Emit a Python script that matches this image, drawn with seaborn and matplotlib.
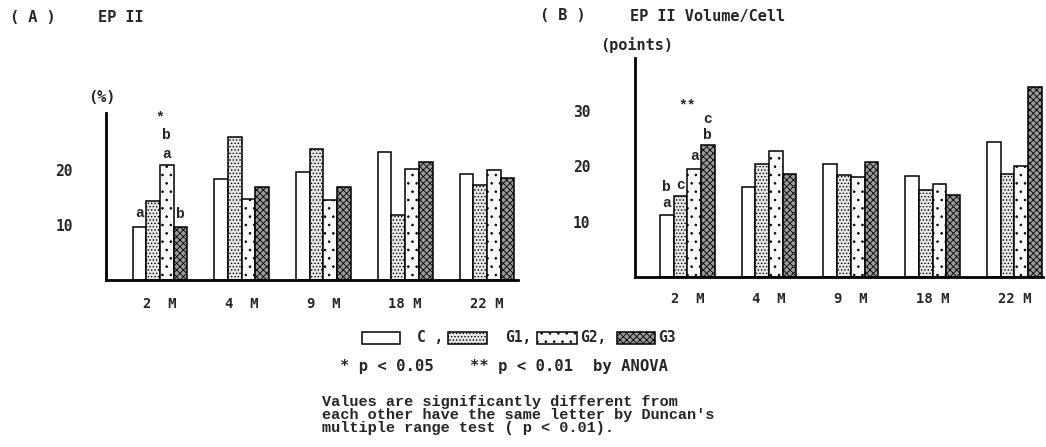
import matplotlib
matplotlib.use('Agg')
import matplotlib.pyplot as plt
import seaborn as sns
import pandas as pd
from matplotlib.patches import Rectangle

# ---------------- data ----------------
months = ['2  M', '4  M', '9  M', '18 M', '22 M']
groups = ['C', 'G1', 'G2', 'G3']

ep2_C = [9.7, 18.4, 19.7, 23.3, 19.3]
ep2_G1 = [14.4, 26.0, 23.8, 11.8, 17.2]
ep2_G2 = [20.9, 14.7, 14.5, 20.1, 20.0]
ep2_G3 = [9.7, 16.9, 17.0, 21.5, 18.5]

vol_C = [11.3, 16.2, 20.4, 18.2, 24.4]
vol_G1 = [14.6, 20.4, 18.4, 15.7, 18.6]
vol_G2 = [19.5, 22.7, 18.0, 16.8, 20.0]
vol_G3 = [23.8, 18.6, 20.8, 14.9, 34.3]

yticks_A = [10, 20]
yticks_B = [10, 20, 30]

# significance annotations: (text, month index, group, y value)
ann_A = [('a', 0, 'C', 12.2), ('*', 0, None, 29.6), ('b', 0, 'G2', 26.4),
         ('a', 0, 'G2', 22.9), ('b', 0, 'G3', 12.0)]
ann_B = [('**', 0, None, 31.0), ('c', 0, 'G3', 28.6), ('b', 0, 'G3', 25.6),
         ('a', 0, 'G2', 21.8), ('b', 0, 'C', 16.3), ('c', 0, 'G1', 16.6),
         ('a', 0, 'C', 13.3)]

legend_labels = ['C ,', 'G1,', 'G2,', 'G3']

# ---------------- style ----------------
sns.set_style('white')
plt.rcParams['font.family'] = ['DejaVu Sans Mono', 'DejaVu Sans']
plt.rcParams['hatch.linewidth'] = 0.6

fills = {'C': '#ffffff', 'G1': '#e6e6e6', 'G2': '#f9f9f9', 'G3': '#9a9a9a'}
hatches = {'C': '', 'G1': '.....', 'G2': '..', 'G3': 'xxxxx'}
WIDTH = 0.67
offs = {g: (i - 1.5) * WIDTH / 4 for i, g in enumerate(groups)}


def make_df(series):
    rows = []
    for g, vals in zip(groups, series):
        for m, v in zip(months, vals):
            rows.append({'month': m, 'group': g, 'value': v})
    return pd.DataFrame(rows)


W, H = 1046, 447
fig = plt.figure(figsize=(W / 100, H / 100), dpi=100)

axA = fig.add_axes([106 / W, 1 - 280 / H, 412 / W, (280 - 113) / H])
axB = fig.add_axes([635 / W, 1 - 277 / H, 408 / W, (277 - 58) / H])


def draw(ax, series, ylim, yticks, xlim, ypad, xpad, ann):
    df = make_df(series)
    sns.barplot(data=df, x='month', y='value', hue='group', order=months,
                hue_order=groups, palette=fills, width=WIDTH, dodge=True,
                errorbar=None, edgecolor='black', linewidth=1.1,
                legend=False, ax=ax)
    for cont, g in zip(ax.containers, groups):
        for bar in cont:
            bar.set_hatch(hatches[g])
    ax.set_xlim(*xlim)
    ax.set_ylim(0, ylim)
    ax.set_yticks(yticks)
    ax.set_xlabel('')
    ax.set_ylabel('')
    for s in ['top', 'right']:
        ax.spines[s].set_visible(False)
    for s in ['left', 'bottom']:
        ax.spines[s].set_linewidth(2.0)
        ax.spines[s].set_color('black')
    ax.tick_params(axis='y', direction='in', length=3, width=1, pad=ypad,
                   labelsize=10.5)
    ax.tick_params(axis='x', length=0, pad=xpad, labelsize=10)
    for lab in ax.get_xticklabels() + ax.get_yticklabels():
        lab.set_fontweight('bold')
    for txt, mi, g, yv in ann:
        x = mi + (offs[g] if g else 0.0)
        ax.text(x, yv, txt, ha='center', va='center', fontsize=10.5,
                family='Liberation Mono', fontweight='bold')
    ax.set_facecolor('none')


draw(axA, [ep2_C, ep2_G1, ep2_G2, ep2_G3], (280 - 113) / 5.5, yticks_A,
     (-0.66, 4.38), 24, 12, ann_A)
draw(axB, [vol_C, vol_G1, vol_G2, vol_G3], (277 - 58) / 5.53, yticks_B,
     (-0.64, 4.35), 32, 11, ann_B)

# ---------------- titles ----------------
tkw = dict(fontsize=11, fontweight='bold', va='center', ha='left')
fig.text(10 / W, 1 - 17 / H, '( A )', **tkw)
fig.text(98 / W, 1 - 17 / H, 'EP II', **tkw)
fig.text(88 / W, 1 - 98 / H, '(%)', **tkw)
fig.text(540 / W, 1 - 16 / H, '( B )', **tkw)
fig.text(630 / W, 1 - 17 / H, 'EP II Volume/Cell', **tkw)
fig.text(600 / W, 1 - 45 / H, '(points)', **tkw)

# ---------------- legend (swatches + labels) ----------------
sw_x = [362, 448, 537, 617]
sw_w = [38, 39, 40, 38]
lab_x = [417, 505, 580, 658]
for g, lab, x0, w0, lx in zip(groups, legend_labels, sw_x, sw_w, lab_x):
    fig.patches.append(Rectangle((x0 / W, 1 - 344 / H), w0 / W, 12 / H,
                                 transform=fig.transFigure,
                                 facecolor=fills[g], edgecolor='black',
                                 hatch=hatches[g], linewidth=1.1))
    fig.text(lx / W, 1 - 338 / H, lab, fontsize=10.5, fontweight='bold',
             va='center', ha='left')

pkw = dict(fontsize=11.2, fontweight='bold', va='center', ha='left')
fig.text(340 / W, 1 - 366 / H, '* p < 0.05', **pkw)
fig.text(470 / W, 1 - 366 / H, '** p < 0.01', **pkw)
fig.text(593 / W, 1 - 366 / H, 'by ANOVA', **pkw)

fig.text(322 / W, 1 - 395 / H,
         "Values are significantly different from\n"
         "each other have the same letter by Duncan's\n"
         "multiple range test ( p < 0.01).",
         family='Liberation Mono', fontsize=11, fontweight='bold',
         va='top', ha='left', linespacing=0.92)

fig.savefig('out.png', dpi=100)
